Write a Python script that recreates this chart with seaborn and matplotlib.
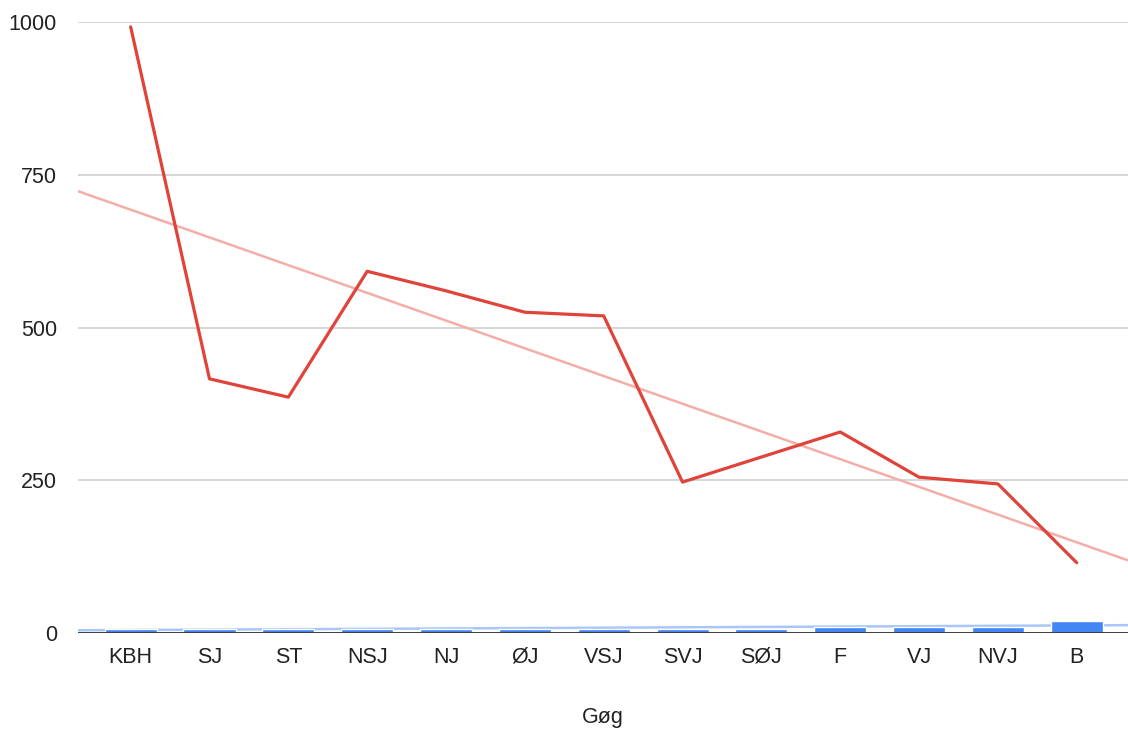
import numpy as np
import pandas as pd
import matplotlib.pyplot as plt
import seaborn as sns

regions = ['KBH', 'SJ', 'ST', 'NSJ', 'NJ', 'ØJ', 'VSJ', 'SVJ', 'SØJ', 'F', 'VJ', 'NVJ', 'B']
red_values = [992, 416, 386, 592, 560, 525, 519, 247, 288, 329, 255, 244, 115]
blue_values = [7, 7, 7, 7, 7, 7, 7, 7, 7, 10, 10, 10, 20]
y_ticks = [0, 250, 500, 750, 1000]

sns.set_style('white')
plt.rcParams['font.family'] = ['Liberation Sans', 'DejaVu Sans']

df = pd.DataFrame({'region': regions, 'red': red_values, 'blue': blue_values})
df['pos'] = np.arange(len(df))

fig = plt.figure(figsize=(11.28, 7.33), dpi=100)
ax = fig.add_axes([0.069, 0.1364, 0.931, 0.8336])

ax.set_xlim(-0.67, 12.65)
ax.set_ylim(0, 1000)
ax.set_yticks(y_ticks)
ax.yaxis.grid(True, color='#cccccc', linewidth=1.1)
ax.set_axisbelow(True)

sns.barplot(data=df, x='region', y='blue', color='#4285f4', width=0.66,
            saturation=1, ax=ax, zorder=3)

# trend lines over full axis width (blue one sits behind the bars)
xs = np.array([-0.67, 12.65])
for col, c, z in [('blue', '#a8c6fa', 2), ('red', '#f4aea7', 4)]:
    k, b = np.polyfit(df['pos'], df[col], 1)
    ax.plot(xs, k * xs + b, color=c, linewidth=1.8, zorder=z, solid_capstyle='butt')

sns.lineplot(data=df, x='pos', y='red', color='#e0433a', linewidth=2.3, ax=ax, zorder=5)

ax.set_xlim(-0.67, 12.65)
ax.set_ylim(0, 1000)
ax.axhline(0, color='#333333', linewidth=1.3, zorder=6)

for s in ax.spines.values():
    s.set_visible(False)
ax.tick_params(axis='both', length=0, labelsize=15.5, colors='#222222')
ax.tick_params(axis='x', pad=10)
ax.tick_params(axis='y', pad=15)
ax.set_xlabel('Gøg', fontsize=15.5, color='#222222', labelpad=28)
ax.set_ylabel('')

fig.savefig('out.png', dpi=100)
